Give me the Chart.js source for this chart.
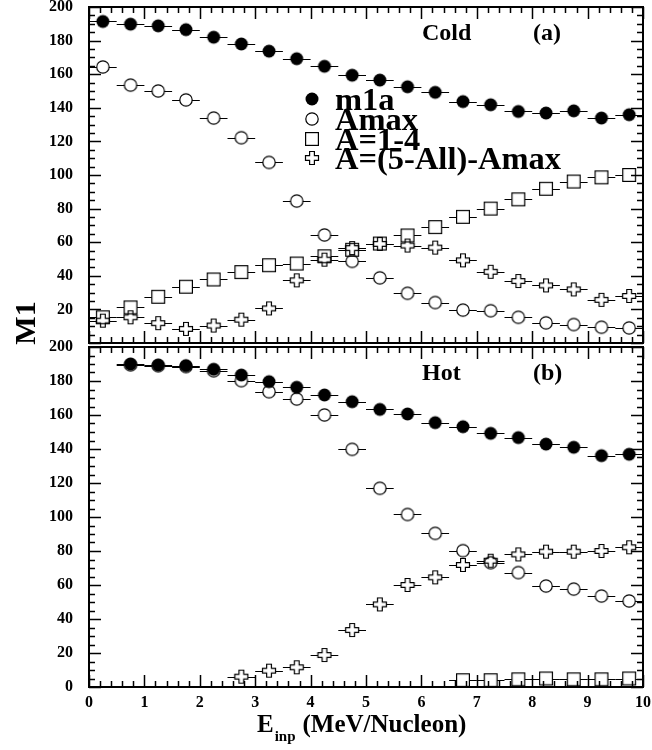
<!DOCTYPE html>
<html>
<head>
<meta charset="utf-8">
<script src="https://cdn.jsdelivr.net/npm/chart.js@4.4.0/dist/chart.umd.min.js"></script>
<style>
  html, body { margin: 0; padding: 0; background: #fff; }
  #wrap { position: relative; width: 652px; height: 750px; overflow: hidden; }
  #cold { position: absolute; left: 0; top: 0; }
  #hot { position: absolute; left: 0; top: 340px; }
</style>
</head>
<body>
<div id="wrap">
  <canvas id="cold" width="652" height="350"></canvas>
  <canvas id="hot" width="652" height="410"></canvas>
</div>
<script>
// --- DATA ---
const seriesLabels = ['m1a', 'Amax', 'A=1-4', 'A=(5-All)-Amax'];
const binHalfWidth = 0.25;
const xTicks = [0, 1, 2, 3, 4, 5, 6, 7, 8, 9, 10];
const yTicks = [0, 20, 40, 60, 80, 100, 120, 140, 160, 180, 200];

// (a) Cold
const eCold      = [0.25, 0.75, 1.25, 1.75, 2.25, 2.75, 3.25, 3.75, 4.25, 4.75, 5.25, 5.75, 6.25, 6.75, 7.25, 7.75, 8.25, 8.75, 9.25, 9.75];
const m1aCold    = [191.4, 189.8, 188.8, 186.5, 182.0, 178.0, 173.7, 169.2, 164.7, 159.4, 156.5, 152.5, 149.2, 143.7, 141.8, 137.8, 136.9, 138.2, 133.9, 135.9];
const amaxCold   = [164.3, 153.5, 150.0, 144.7, 133.9, 122.2, 107.5, 84.5, 64.3, 48.6, 38.8, 29.6, 24.1, 19.6, 19.2, 15.3, 12.0, 11.0, 9.4, 9.0];
const lightCold  = [15.3, 21.2, 27.5, 33.5, 37.8, 42.2, 46.3, 47.3, 51.6, 55.5, 59.2, 64.0, 69.0, 75.1, 80.0, 85.5, 91.8, 96.1, 98.6, 100.0];
const restCold   = [13.3, 15.3, 11.8, 8.4, 10.4, 13.9, 20.6, 37.3, 49.6, 56.5, 59.0, 58.0, 56.8, 49.2, 42.4, 36.9, 34.3, 31.9, 25.7, 28.0];

// (b) Hot
const eHot       = [0.75, 1.25, 1.75, 2.25, 2.75, 3.25, 3.75, 4.25, 4.75, 5.25, 5.75, 6.25, 6.75, 7.25, 7.75, 8.25, 8.75, 9.25, 9.75];
const m1aHot     = [190.0, 189.4, 189.0, 186.9, 183.5, 179.6, 176.3, 171.8, 167.8, 163.3, 160.6, 155.5, 153.1, 149.2, 146.7, 142.9, 141.0, 136.1, 136.9];
const amaxHot    = [189.5, 189.0, 188.5, 186.0, 180.2, 173.7, 169.4, 160.0, 139.8, 116.9, 101.5, 90.4, 80.2, 73.1, 67.3, 59.4, 57.6, 53.5, 50.6];
const eLightHot  = [6.75, 7.25, 7.75, 8.25, 8.75, 9.25, 9.75];
const lightHot   = [4.0, 4.0, 4.5, 5.0, 4.5, 4.5, 5.0];
const eRestHot   = [2.75, 3.25, 3.75, 4.25, 4.75, 5.25, 5.75, 6.25, 6.75, 7.25, 7.75, 8.25, 8.75, 9.25, 9.75];
const restHot    = [6.1, 9.6, 11.6, 18.8, 33.5, 48.6, 60.0, 64.5, 71.8, 74.3, 78.0, 79.6, 79.6, 80.0, 82.2];

const SERIF = '"Liberation Serif", "Times New Roman", serif';

// --- MARKERS (ROOT-like) ---
function marker(kind) {
  const c = document.createElement('canvas');
  c.width = 16; c.height = 16;
  const g = c.getContext('2d');
  g.strokeStyle = '#000';
  g.fillStyle = '#000';
  g.lineWidth = 1.2;
  if (kind === 'dot') {
    g.beginPath(); g.arc(8, 8, 6.5, 0, 2 * Math.PI); g.fill();
  } else if (kind === 'ring') {
    g.beginPath(); g.arc(8, 8, 6.2, 0, 2 * Math.PI); g.stroke();
  } else if (kind === 'box') {
    g.strokeRect(1.6, 1.6, 12.8, 12.8);
  } else {
    const a = 6.5, b = 2.4;
    const p = [[-b,-a],[b,-a],[b,-b],[a,-b],[a,b],[b,b],[b,a],[-b,a],[-b,b],[-a,b],[-a,-b],[-b,-b]];
    g.beginPath();
    p.forEach(([px, py], i) => i ? g.lineTo(8 + px, 8 + py) : g.moveTo(8 + px, 8 + py));
    g.closePath();
    g.stroke();
  }
  return c;
}
const markers = [marker('dot'), marker('ring'), marker('box'), marker('cross')];
const gaps = [0, 6, 6.5, 6.5];

const pts = (xs, ys) => xs.map((x, i) => ({ x: x, y: ys[i] }));

function makeSet(k, xs, ys) {
  return {
    label: seriesLabels[k],
    data: pts(xs, ys),
    pointStyle: markers[k],
    gap: gaps[k],
    showLine: false
  };
}

// --- PLUGINS ---
const errorBars = {
  id: 'errorBars',
  beforeDatasetsDraw(chart) {
    const ctx = chart.ctx, xs = chart.scales.x;
    ctx.save();
    ctx.strokeStyle = '#000';
    ctx.lineWidth = 1;
    chart.data.datasets.forEach((ds, i) => {
      chart.getDatasetMeta(i).data.forEach((pt, j) => {
        const v = ds.data[j].x;
        const x0 = xs.getPixelForValue(v - binHalfWidth);
        const x1 = xs.getPixelForValue(v + binHalfWidth);
        const y = Math.round(pt.y) + 0.5;
        ctx.beginPath();
        ctx.moveTo(x0, y); ctx.lineTo(pt.x - ds.gap, y);
        ctx.moveTo(pt.x + ds.gap, y); ctx.lineTo(x1, y);
        ctx.stroke();
      });
    });
    ctx.restore();
  }
};

const frame = {
  id: 'frame',
  afterDraw(chart) {
    const { ctx, chartArea: a } = chart;
    const xs = chart.scales.x, ys = chart.scales.y;
    ctx.save();
    ctx.strokeStyle = '#000';
    ctx.lineWidth = 1.5;
    ctx.beginPath();
    for (let k = 0; k <= 50; k++) {
      const px = Math.round(xs.getPixelForValue(xs.min + k * 0.2)) + 0.5;
      const len = k % 5 === 0 ? 12 : 6;
      ctx.moveTo(px, a.bottom); ctx.lineTo(px, a.bottom - len);
      ctx.moveTo(px, a.top); ctx.lineTo(px, a.top + len);
    }
    for (let k = 0; k <= 40; k++) {
      const py = Math.round(ys.getPixelForValue(ys.min + k * 5)) + 0.5;
      const len = k % 4 === 0 ? 12 : 6;
      ctx.moveTo(a.left, py); ctx.lineTo(a.left + len, py);
      ctx.moveTo(a.right, py); ctx.lineTo(a.right - len, py);
    }
    ctx.stroke();
    ctx.lineWidth = 2;
    ctx.strokeRect(a.left, a.top, a.right - a.left, a.bottom - a.top);
    ctx.restore();
  }
};

const panelText = {
  id: 'panelText',
  afterDraw(chart, args, opts) {
    const ctx = chart.ctx;
    ctx.save();
    ctx.fillStyle = '#000';
    ctx.textBaseline = 'alphabetic';
    (opts.items || []).forEach(t => {
      ctx.font = 'bold ' + t.size + 'px ' + SERIF;
      ctx.textAlign = 'left';
      ctx.fillText(t.text, t.x, t.y);
    });
    if (opts.legend) {
      const L = opts.legend;
      ctx.font = 'bold ' + L.size + 'px ' + SERIF;
      chart.data.datasets.forEach((ds, i) => {
        const cy = L.rows[i];
        ctx.drawImage(ds.pointStyle, L.markX - 8, cy - 8);
        ctx.fillText(ds.label, L.textX, cy + L.baseShift);
      });
    }
    if (opts.yTitle) {
      const T = opts.yTitle;
      ctx.save();
      ctx.translate(T.x, T.y);
      ctx.rotate(-Math.PI / 2);
      ctx.textAlign = 'center';
      ctx.font = 'bold ' + T.size + 'px ' + SERIF;
      ctx.fillText(T.text, 0, 0);
      ctx.restore();
    }
    if (opts.xTitle) {
      const T = opts.xTitle;
      let x = T.x;
      ctx.font = 'bold ' + T.size + 'px ' + SERIF;
      ctx.fillText('E', x, T.y);
      x += ctx.measureText('E').width + 1;
      ctx.font = 'bold ' + T.subSize + 'px ' + SERIF;
      ctx.fillText('inp', x, T.y + T.subDrop);
      x += ctx.measureText('inp').width + 7;
      ctx.font = 'bold ' + T.size + 'px ' + SERIF;
      ctx.fillText('(MeV/Nucleon)', x, T.y);
    }
    ctx.restore();
  }
};

Chart.defaults.font.family = SERIF;

function yScale(hideZero) {
  return {
    min: 0, max: 200,
    afterBuildTicks: s => { s.ticks = yTicks.map(v => ({ value: v })); },
    grid: { display: false, drawTicks: false },
    border: { display: false },
    ticks: {
      padding: 16,
      color: '#000',
      font: { size: 16, weight: 'bold' },
      callback: v => (hideZero && v === 0) ? '' : String(v)
    },
    afterFit: s => { s.width = 89; s.paddingTop = 0; s.paddingBottom = 0; }
  };
}

function xScale(show) {
  return {
    type: 'linear',
    min: 0, max: 10,
    display: show,
    afterBuildTicks: s => { s.ticks = xTicks.map(v => ({ value: v })); },
    grid: { display: false, drawTicks: false },
    border: { display: false },
    ticks: {
      padding: 6,
      color: '#000',
      maxRotation: 0,
      font: { size: 16, weight: 'bold' }
    },
    afterFit: s => {
      s.height = show ? 63 : 0;
      s.paddingLeft = 0; s.paddingRight = 0;
    }
  };
}

function baseOptions(showX, hideZero, padding, textOpts) {
  return {
    responsive: false,
    animation: false,
    events: [],
    layout: { padding: padding },
    elements: { point: { radius: 6 } },
    scales: { x: xScale(showX), y: yScale(hideZero) },
    plugins: {
      legend: { display: false },
      tooltip: { enabled: false },
      panelText: textOpts
    }
  };
}

new Chart(document.getElementById('cold'), {
  type: 'scatter',
  data: {
    datasets: [
      makeSet(0, eCold, m1aCold),
      makeSet(1, eCold, amaxCold),
      makeSet(2, eCold, lightCold),
      makeSet(3, eCold, restCold)
    ]
  },
  options: baseOptions(false, true, { top: 6, right: 9, bottom: 4, left: 0 }, {
    items: [
      { text: 'Cold', x: 422, y: 40, size: 24 },
      { text: '(a)', x: 533, y: 40, size: 24 }
    ],
    legend: { size: 32.5, markX: 312, textX: 335, rows: [99, 119, 139, 158], baseShift: 11 },
    yTitle: { text: 'M1', x: 35, y: 323, size: 30 }
  }),
  plugins: [errorBars, frame, panelText]
});

new Chart(document.getElementById('hot'), {
  type: 'scatter',
  data: {
    datasets: [
      makeSet(0, eHot, m1aHot),
      makeSet(1, eHot, amaxHot),
      makeSet(2, eLightHot, lightHot),
      makeSet(3, eRestHot, restHot)
    ]
  },
  options: baseOptions(true, false, { top: 6, right: 9, bottom: 0, left: 0 }, {
    items: [
      { text: 'Hot', x: 422, y: 40, size: 24 },
      { text: '(b)', x: 533, y: 40, size: 24 }
    ],
    xTitle: { x: 257, y: 392, size: 25, subSize: 15, subDrop: 9 }
  }),
  plugins: [errorBars, frame, panelText]
});
</script>
</body>
</html>
